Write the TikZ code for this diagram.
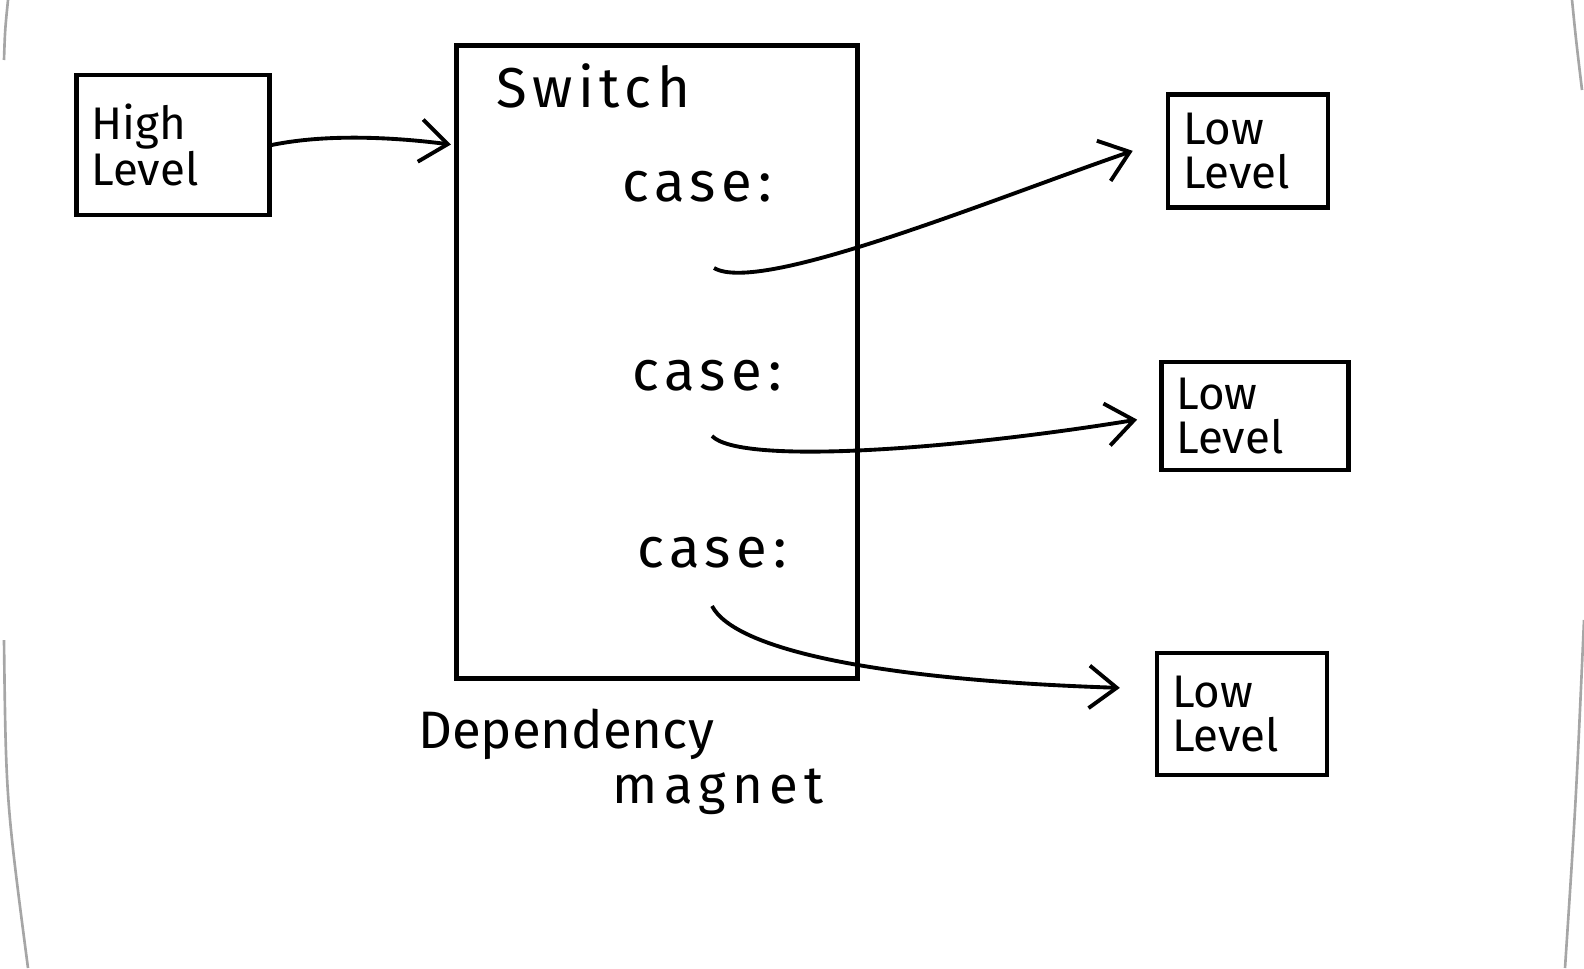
\documentclass[tikz,border=0pt]{standalone}
\usepackage{fontspec}
\setmainfont{Fira Sans}
\newfontfamily\handfont[LetterSpace=10]{Fira Sans}
\newfontfamily\widefont[LetterSpace=12]{Fira Sans}
\usetikzlibrary{arrows.meta}

\tikzset{
  box/.style={draw, line width=2.5pt, inner xsep=0.3cm, inner ysep=0pt, align=left,
    font=\fontsize{26}{25}\selectfont},
  arr/.style={line width=2.2pt, -{Straight Barb[length=0.55cm,width=0.85cm,line width=2.2pt]}},
  hand/.style={font=\fontsize{32}{38}\handfont},
  edge/.style={gray!70, line width=1.5pt},
}

\begin{document}
\begin{tikzpicture}[x=0.02cm, y=-0.02cm]
  \useasboundingbox (0,0) rectangle (1584,968);
  % card edges
  \draw[edge] (8,0) .. controls (5,30) .. (4,60);
  \draw[edge] (4,640) .. controls (6,800) .. (28,968);
  \draw[edge] (1572,0) .. controls (1576,40) .. (1582,90);
  \draw[edge] (1584,620) .. controls (1576,800) .. (1565,968);

  \node[box, text width=3.26cm, minimum height=2.8cm] (high) at (173,145) {High\\Level};
  \node[draw, line width=2.5pt, minimum width=8.02cm, minimum height=12.66cm] (switch) at (657,362) {};
  \node[hand, anchor=west] (swlabel) at (490,86) {Switch};
  \node[hand] (case1) at (697,187) {case:};
  \node[hand] (case2) at (707,376) {case:};
  \node[hand] (case3) at (712,553) {case:};
  \node[box, text width=2.6cm, minimum height=2.26cm] (low1) at (1248,151) {Low\\Level};
  \node[box, text width=3.14cm, minimum height=2.16cm] (low2) at (1255,416) {Low\\Level};
  \node[box, text width=2.8cm, minimum height=2.44cm] (low3) at (1242,714) {Low\\Level};
  \node[font=\fontsize{30}{36}\selectfont] (dep) at (566,734) {Dependency};
  \node[font=\fontsize{30}{36}\widefont] (magnet) at (718,792) {magnet};

  \coordinate (t1) at (714,268);
  \coordinate (t2) at (712,436);
  \coordinate (t3) at (712,606);

  \draw[arr, shorten >=2pt] (high.east) .. controls (330,133) and (400,138) .. (switch.west |- high.east);
  \draw[arr, shorten >=0.7cm] (t1) .. controls (760,295) and (990,200) .. (low1.172);
  \draw[arr, shorten >=0.45cm] (t2) .. controls (740,465) and (950,450) .. (low2.west);
  \draw[arr, shorten >=0.7cm] (t3) .. controls (735,650) and (880,680) .. (low3.164);
\end{tikzpicture}
\end{document}
